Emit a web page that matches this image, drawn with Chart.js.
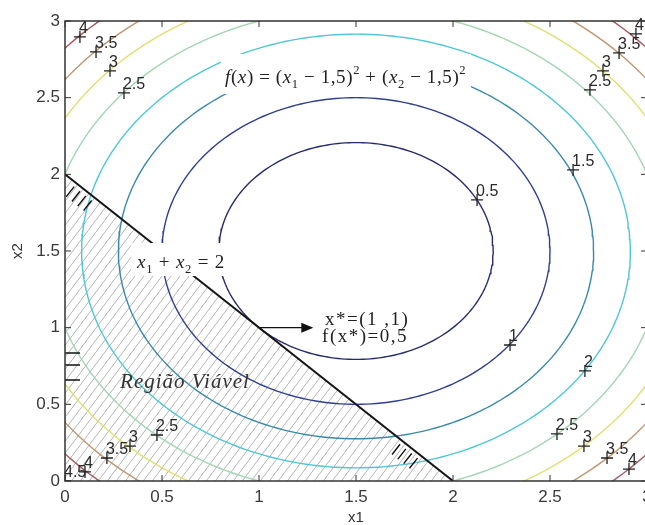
<!DOCTYPE html>
<html>
<head>
<meta charset="utf-8">
<script src="https://cdn.jsdelivr.net/npm/chart.js@4.4.1/dist/chart.umd.min.js"></script>
<style>
  html, body { margin: 0; padding: 0; background: #fff; overflow: hidden; }
  #wrap { width: 660px; height: 525px; }
</style>
</head>
<body>
<div id="wrap"><canvas id="myChart" width="660" height="525"></canvas></div>
<script>
// f(x) = (x1 - 1.5)^2 + (x2 - 1.5)^2, contour levels
const levels = [0.5, 1, 1.5, 2, 2.5, 3, 3.5, 4, 4.5];
const levelColors = ['#272b6c', '#2f3f8e', '#3a88aa', '#4ec6d6', '#a2d6b4', '#dfe070', '#bf9670', '#a85c62', '#c23c5c'];
const center = [1.5, 1.5];

// clabel crosses and their values
const labelX = [0.077, 0.160, 0.232, 0.304, 2.943, 2.856, 2.773, 2.706, 2.619, 2.124, 2.294, 2.680, 2.536, 2.675, 2.794, 2.907, 0.474, 0.335, 0.216, 0.103, 0.0];
const labelY = [2.896, 2.798, 2.675, 2.531, 2.916, 2.792, 2.675, 2.551, 2.029, 1.833, 0.887, 0.718, 0.307, 0.228, 0.150, 0.078, 0.300, 0.228, 0.150, 0.059, 0.0];
const labelText = ['4', '3.5', '3', '2.5', '4', '3.5', '3', '2.5', '1.5', '0.5', '1', '2', '2.5', '3', '3.5', '4', '2.5', '3', '3.5', '4', '4.5'];

// restriction x1 + x2 = 2
const constraintX = [0, 2];
const constraintY = [2, 0];

// optimum
const optimum = [1, 1];
const optimumValue = '0,5';

// short hatch strokes on the boundaries
const lineMarksX = [0.06, 0.09, 0.12, 0.15, 1.74, 1.77, 1.80, 1.83];
const axisMarksY = [0.835, 0.757, 0.659];

const tickValues = [0, 0.5, 1, 1.5, 2, 2.5, 3];
const tickLabels = ['0', '0.5', '1', '1.5', '2', '2.5', '3'];

const ctx = document.getElementById('myChart').getContext('2d');

function circle(level) {
  const r = Math.sqrt(level);
  const pts = [];
  for (let i = 0; i <= 240; i++) {
    const a = i / 240 * Math.PI * 2;
    pts.push({x: center[0] + r * Math.cos(a), y: center[1] + r * Math.sin(a)});
  }
  return pts;
}

function hatch() {
  const c = document.createElement('canvas');
  c.width = 9; c.height = 12;
  const g = c.getContext('2d');
  g.strokeStyle = '#b6b6b6';
  g.lineWidth = 1;
  g.beginPath();
  g.moveTo(0, 12); g.lineTo(9, 0);
  g.moveTo(-9, 12); g.lineTo(0, 0);
  g.moveTo(9, 12); g.lineTo(18, 0);
  g.stroke();
  return ctx.createPattern(c, 'repeat');
}

const SERIF = '"Liberation Serif", "Times New Roman", serif';
const SANS = '"Liberation Sans", Arial, sans-serif';

function runs(c, parts, x, y, size) {
  let cx = x;
  parts.forEach(p => {
    const s = (p.sub || p.sup) ? size * 0.66 : size;
    c.font = (p.it ? 'italic ' : '') + s + 'px ' + SERIF;
    const dy = p.sub ? size * 0.28 : p.sup ? -size * 0.45 : 0;
    c.fillText(p.t, cx, y + dy);
    cx += c.measureText(p.t).width;
  });
  return cx;
}

const formula = [
  {t: 'f', it: 1}, {t: '('}, {t: 'x', it: 1}, {t: ') = ('}, {t: 'x', it: 1}, {t: '1', sub: 1},
  {t: ' \u2212 1,5)'}, {t: '2', sup: 1}, {t: ' + ('}, {t: 'x', it: 1}, {t: '2', sub: 1},
  {t: ' \u2212 1,5)'}, {t: '2', sup: 1}
];
const restriction = [
  {t: 'x', it: 1}, {t: '1', sub: 1}, {t: ' + '}, {t: 'x', it: 1}, {t: '2', sub: 1}, {t: ' = 2'}
];

const overlay = {
  id: 'overlay',
  afterDatasetsDraw(chart) {
    const c = chart.ctx;
    const xs = chart.scales.x, ys = chart.scales.y;
    const X = v => xs.getPixelForValue(v), Y = v => ys.getPixelForValue(v);
    const a = chart.chartArea;
    c.save();

    // contour labels
    c.fillStyle = '#2a2a2a';
    c.font = '16px ' + SANS;
    c.textBaseline = 'alphabetic';
    labelText.forEach((t, i) => c.fillText(t, X(labelX[i]) - 1, Y(labelY[i]) - 4));

    // hatch strokes
    c.strokeStyle = '#111';
    c.lineWidth = 1.4;
    const ux = X(1) - X(0), uy = Y(0) - Y(1);
    const len = Math.hypot(ux, uy);
    const nx = -uy / len, ny = ux / len;
    c.beginPath();
    lineMarksX.forEach(v => {
      const px = X(v), py = Y(2 - v);
      c.moveTo(px + nx * 4, py + ny * 4);
      c.lineTo(px + nx * 17, py + ny * 17);
    });
    axisMarksY.forEach(v => {
      c.moveTo(X(0), Y(v));
      c.lineTo(X(0) + 15, Y(v));
    });
    c.stroke();

    // formula
    c.fillStyle = '#fff';
    c.fillRect(X(0.825) - 4, Y(2.596) - 29, 250, 40);
    c.fillStyle = '#222';
    c.letterSpacing = '0.6px';
    runs(c, formula, X(0.825), Y(2.596), 19);

    // restriction label
    c.fillStyle = '#fff';
    c.fillRect(X(0.371) - 6, Y(1.389) - 25, 96, 33);
    c.fillStyle = '#222';
    c.letterSpacing = '0.8px';
    runs(c, restriction, X(0.371), Y(1.389), 19);

    // arrow to the optimum
    const ax0 = X(optimum[0]), ay = Y(optimum[1]), ax1 = X(1.28);
    c.letterSpacing = '0px';
    c.strokeStyle = '#111';
    c.fillStyle = '#111';
    c.lineWidth = 1.4;
    c.beginPath();
    c.moveTo(ax0, ay); c.lineTo(ax1 - 8, ay);
    c.stroke();
    c.beginPath();
    c.moveTo(ax1, ay); c.lineTo(ax1 - 12, ay - 5); c.lineTo(ax1 - 12, ay + 5);
    c.closePath();
    c.fill();

    c.fillStyle = '#222';
    c.font = '19px ' + SERIF;
    c.letterSpacing = '1.5px';
    c.fillText('x*=(' + optimum[0] + ' ,' + optimum[1] + ')', X(1.34), Y(1.018));
    c.fillText('f(x*)=' + optimumValue, X(1.325), Y(0.907));

    c.font = 'italic 21px ' + SERIF;
    c.letterSpacing = '1px';
    c.fillStyle = '#333';
    c.fillText('Regi\u00e3o Vi\u00e1vel', X(0.284), Y(0.607));
    c.letterSpacing = '0px';

    // axes box with inward ticks
    c.strokeStyle = '#333';
    c.lineWidth = 1.5;
    c.strokeRect(a.left, a.top, a.right - a.left, a.bottom - a.top);
    c.lineWidth = 1;
    c.beginPath();
    tickValues.forEach(v => {
      c.moveTo(X(v), a.bottom); c.lineTo(X(v), a.bottom - 6);
      c.moveTo(X(v), a.top); c.lineTo(X(v), a.top + 6);
      c.moveTo(a.left, Y(v)); c.lineTo(a.left + 6, Y(v));
      c.moveTo(a.right, Y(v)); c.lineTo(a.right - 6, Y(v));
    });
    c.stroke();
    c.restore();
  }
};

const datasets = [{
  data: constraintX.map((x, i) => ({x, y: constraintY[i]})),
  borderColor: '#151515',
  borderWidth: 2,
  backgroundColor: hatch(),
  fill: 'origin',
  pointRadius: 0,
  order: 0
}, {
  type: 'scatter',
  data: labelX.map((x, i) => ({x, y: labelY[i]})),
  pointStyle: 'cross',
  pointRadius: 6,
  borderColor: '#222',
  borderWidth: 1.3,
  order: -1
}];
levels.forEach((lv, i) => {
  datasets.push({
    data: circle(lv),
    borderColor: levelColors[i],
    borderWidth: 1.4,
    pointRadius: 0,
    fill: false,
    order: 1
  });
});

const myChart = new Chart(ctx, {
  type: 'line',
  data: {datasets},
  options: {
    responsive: false,
    animation: false,
    layout: {padding: {top: 21, right: 13, left: 0, bottom: 0}},
    plugins: {
      legend: {display: false},
      tooltip: {enabled: false},
      filler: {drawTime: 'beforeDatasetsDraw'}
    },
    scales: {
      x: {
        type: 'linear',
        min: 0, max: 3,
        grid: {display: false, drawTicks: false},
        border: {display: false},
        afterBuildTicks: s => { s.ticks = tickValues.map(v => ({value: v})); },
        afterFit: s => { s.height = 44; },
        ticks: {
          padding: 6,
          color: '#3a3a3a',
          font: {family: SANS, size: 17},
          callback: (v, i) => tickLabels[i]
        },
        title: {
          display: true, text: 'x1', color: '#333',
          font: {family: SANS, size: 15, lineHeight: 1},
          padding: {top: 0, bottom: 0}
        }
      },
      y: {
        type: 'linear',
        min: 0, max: 3,
        grid: {display: false, drawTicks: false},
        border: {display: false},
        afterBuildTicks: s => { s.ticks = tickValues.map(v => ({value: v})); },
        afterFit: s => { s.width = 65; },
        ticks: {
          padding: 5,
          color: '#3a3a3a',
          font: {family: SANS, size: 17},
          callback: (v, i) => tickLabels[i]
        },
        title: {
          display: true, text: 'x2', color: '#333',
          font: {family: SANS, size: 15, lineHeight: 1},
          padding: {top: 10, bottom: 0}
        }
      }
    }
  },
  plugins: [overlay]
});
</script>
</body>
</html>
